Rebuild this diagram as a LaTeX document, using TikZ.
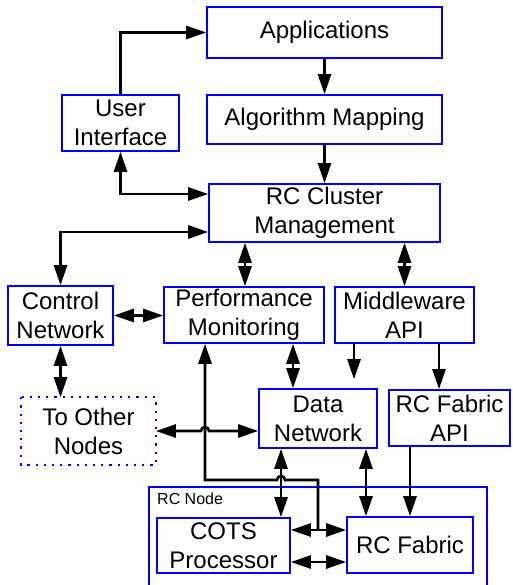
\documentclass[tikz,border=0pt]{standalone}
\usepackage{fontspec}
\setmainfont{Liberation Sans}
\usetikzlibrary{arrows.meta,calc}
\begin{document}
\begin{tikzpicture}[x=1pt,y=1pt,
  blk/.style={draw=blue, line width=1.6pt, align=center, inner sep=0pt,
    font=\fontsize{24}{29}\selectfont},
  sz/.style 2 args={minimum width=#1pt, minimum height=#2pt},
  dotbox/.style={draw=blue, line width=2.2pt, dash pattern=on 2.2pt off 6pt},
  link/.style={line width=2.6pt, draw=black},
  one/.style={link, -{Triangle[length=20pt,width=13pt]}},
  two/.style={link, {Triangle[length=20pt,width=13pt]}-{Triangle[length=20pt,width=13pt]}}
]
\useasboundingbox (0,0) rectangle (512,-585);

% enclosing RC node frame
\draw[draw=blue, line width=1.6pt] (149,-487) rectangle (487,-600);
\node[anchor=base west, inner sep=0pt, font=\fontsize{16}{18}\selectfont] (rcnode) at (157,-504) {RC Node};

% boxes
\node[blk, sz={235}{51}] (app) at (324.5,-32.5) {Applications};
\node[blk, sz={235}{49}] (alg) at (324.5,-119.5) {Algorithm Mapping};
\node[blk, sz={117}{56}] (ui) at (120.5,-123) {User\\Interface};
\node[blk, sz={231}{58}] (rcm) at (324.5,-213) {RC Cluster\\Management};
\node[blk, sz={105}{59}] (ctl) at (60.5,-315.5) {Control\\Network};
\node[blk, sz={160}{56}] (perf) at (244,-315) {Performance\\Monitoring};
\node[blk, sz={139}{56}] (mid) at (404.5,-315) {Middleware\\API};
\node[blk, sz={133}{66}, draw=none] (other) at (88.5,-431) {To Other\\Nodes};
\draw[dotbox] (other.north west) rectangle (other.south east);
\node[blk, sz={118}{59}] (data) at (318,-418.5) {Data\\Network};
\node[blk, sz={121}{56}] (fapi) at (449.5,-418) {RC Fabric\\API};
\node[blk, sz={133}{55}] (cots) at (223.5,-545.5) {COTS\\Processor};
\node[blk, sz={126}{56}] (fab) at (410,-545) {RC Fabric};

% top chain
\draw[one] (ui.north) |- (app.west);
\draw[one] (app.south) -- (alg.north);
\draw[one] (alg.south) -- (rcm.north);
\draw[two] (ui.south) |- ([yshift=19]rcm.west);
\draw[two] (ctl.north) |- ([yshift=-19]rcm.west);
\draw[two] ([xshift=1]perf.north) -- ([xshift=1]perf.north |- rcm.south);
\draw[two] (mid.north) -- (mid.north |- rcm.south);

% middle row
\draw[two] (ctl.east) -- (ctl.east -| perf.west);
\draw[two] (ctl.south) -- (ctl.south |- other.north);
\draw[one, shorten >=9pt] ([xshift=-50.5]mid.south) -- ([xshift=-50.5]mid.south |- data.north);
\draw[one] ([xshift=34.5]mid.south) -- ([xshift=34.5]mid.south |- fapi.north);
\draw[two] ([xshift=49]perf.south) -- ([xshift=49]perf.south |- data.north);

% to other nodes, hopping over the monitoring line
\draw[two] ([yshift=0]other.east) -- (201,-431) arc[start angle=180, end angle=0, radius=4] -- (other.east -| data.west);

% data network to node
\draw[two] ([xshift=-37]data.south) -- ([xshift=-37]data.south |- cots.north);
\draw[two] ([xshift=48]data.south) -- ([xshift=48]data.south |- fab.north);
\draw[one] ([xshift=-39.5]fapi.south) -- ([xshift=-39.5]fapi.south |- fab.north);

% processor to fabric
\draw[two] ([yshift=15.5]cots.east) -- ([yshift=15.5]cots.east -| fab.west);
\draw[two] ([yshift=-16.5]cots.east) -- ([yshift=-16.5]cots.east -| fab.west);

% monitoring tap on the processor-fabric link
\coordinate (tap) at (318,-530);
\draw[one] (tap) -- (318,-480) -- (285,-480) arc[start angle=0, end angle=180, radius=4] -- (205,-480) -- (perf.south -| 205,0);
\end{tikzpicture}
\end{document}
